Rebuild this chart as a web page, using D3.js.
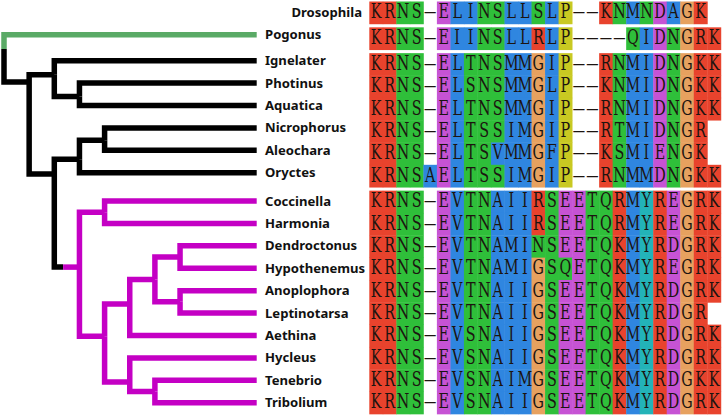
<!DOCTYPE html>
<html><head><meta charset="utf-8">
<script src="https://cdn.jsdelivr.net/npm/d3@7"></script>
<style>html,body{margin:0;padding:0;background:#fff;} svg{display:block}</style>
</head><body><svg id="c" width="722" height="416"></svg>
<script>
// ---------- data ----------
const taxa = ["Drosophila","Pogonus","Ignelater","Photinus","Aquatica","Nicrophorus","Aleochara","Oryctes",
  "Coccinella","Harmonia","Dendroctonus","Hypothenemus","Anoplophora","Leptinotarsa","Aethina","Hycleus","Tenebrio","Tribolium"];
const sequences = [
  "KRNS-ELINSLLSLP--KNMNDAGK",
  "KRNS-EIINSLLRLP----QIDNGRK",
  "KRNS-ELTNSMMGIP--RNMIDNGKK",
  "KRNS-ELSNSMMGLP--KNMIDNGKK",
  "KRNS-ELTNSMMGIP--RNMIDNGKK",
  "KRNS-ELTSSIMGIP--RTMIDNGR",
  "KRNS-ELTSVMMGFP--KSMIENGK",
  "KRNSAELTSSIMGIP--RNMMDNGKK",
  "KRNS-EVTNAIIRSEETQRMYREGRK",
  "KRNS-EVTNAIIRSEETQRMYREGRK",
  "KRNS-EVTNAMINSEETQKMYRDGRK",
  "KRNS-EVTNAMIGSQETQKMYREGRK",
  "KRNS-EVTNAIIGSEETQKMYRDGRK",
  "KRNS-EVTNAIIGSEETQKMYRDGR",
  "KRNS-EVSNAIIGSEETQKMYRDGRK",
  "KRNS-EVSNAIIGSEETQKMYRDGRK",
  "KRNS-EVSNAIMGSEETQKMYRDGKK",
  "KRNS-EVSNAIIGSEETQKMYRDGRK"
];
const blockOf = [0,1,2,2,2,2,2,2,3,3,3,3,3,3,3,3,3,3];
const residueClass = {K:"basic",R:"basic",N:"polar",S:"polar",T:"polar",Q:"polar",E:"acidic",D:"acidic",
  A:"hydro",I:"hydro",L:"hydro",M:"hydro",V:"hydro",F:"hydro",G:"gly",P:"pro",Y:"arom"};
const classNames = ["basic","polar","acidic","hydro","gly","pro","arom"];
const classColors = ["#e8432d","#2fbf3a","#c653d4","#2f86e0","#e7a15f","#c9c922","#23b3b8"];
// tree (cladogram) with named internal nodes
const treeNewick = "(Pogonus,((Ignelater,(Photinus,Aquatica)PA)A,(((Nicrophorus,Aleochara)NA,Oryctes)NAO,((Coccinella,Harmonia)CH,((((Dendroctonus,Hypothenemus)DH,(Anoplophora,Leptinotarsa)AL)DHAL,Aethina)DHALA,(Hycleus,(Tenebrio,Tribolium)TT)HTT)X1)M)B)N1)root;";
// vertical position of internal nodes, in taxon-row units
const nodeRow = {root:1.55,N1:2.95,A:2.63,PA:3.6,B:7.05,NAO:6.4,NA:5.55,M:10.95,CH:8.5,X1:14.03,
  DHALA:12.6,DHAL:11.5,DH:10.5,AL:12.5,HTT:16.08,TT:16.5};
const cladeGroups = ["Pogonus","M"];
const cladeColors = ["#5aaa66","#c400c4"];

// ---------- scales ----------
const svg = d3.select("#c");
const nCols = d3.max(sequences, s => s.length);
const x = d3.scaleLinear().domain([0, nCols]).range([369.3, 369.3 + nCols * 13.52]);
const rowH = 22.33, blockGap = 3.5, top0 = 1.5;
const yRow = d3.scaleLinear().domain([0, 1]).range([top0, top0 + rowH]);
const rowTop = i => yRow(i) + blockOf[i] * blockGap;
const color = d3.scaleOrdinal().domain(classNames).range(classColors);
// tip positions for tree and labels
const yTip = d3.scaleLinear().domain([0,1,2,7,8,17]).range([12.3,34.7,60.7,172.7,201,402.7]);
const xDepth = d3.scaleLinear().domain([0, 1]).range([4, 29.15]);
const xTipEnd = 256.7;

// ---------- alignment ----------
const cells = [];
sequences.forEach((s, i) => s.split("").forEach((c, j) => cells.push({i, j, c})));
const g = svg.append("g");
g.selectAll("rect").data(cells.filter(d => residueClass[d.c])).join("rect")
  .attr("x", d => x(d.j)).attr("y", d => rowTop(d.i))
  .attr("width", x(1) - x(0) + 0.4).attr("height", rowH + 0.4)
  .attr("fill", d => color(residueClass[d.c]));
g.selectAll("text").data(cells).join("text")
  .attr("transform", d => `translate(${(x(d.j) + x(d.j + 1)) / 2},${rowTop(d.i) + 16.8}) scale(${d.c === "-" ? 0.6 : 0.7},1)`)
  .attr("text-anchor", "middle")
  .attr("font-family", "DejaVu Serif")
  .attr("font-size", 20.5)
  .attr("fill", "#1c1410")
  .text(d => d.c === "-" ? "\u2014" : d.c);

// ---------- labels ----------
svg.append("g").selectAll("text").data(taxa).join("text")
  .attr("x", (d, i) => i === 0 ? 362 : 265)
  .attr("y", (d, i) => yTip(i))
  .attr("dy", "0.35em")
  .attr("text-anchor", (d, i) => i === 0 ? "end" : "start")
  .attr("font-family", "Noto Sans")
  .attr("font-weight", "bold")
  .attr("font-size", 13.1)
  .attr("fill", "#111")
  .text(d => d);

// ---------- tree ----------
function parseNewick(str) {
  let pos = 0;
  function node() {
    const n = {children: []};
    if (str[pos] === "(") {
      pos++;
      n.children.push(node());
      while (str[pos] === ",") { pos++; n.children.push(node()); }
      pos++; // ')'
    }
    let name = "";
    while (pos < str.length && !",();".includes(str[pos])) name += str[pos++];
    n.name = name;
    if (!n.children.length) delete n.children;
    return n;
  }
  return node();
}
const root = d3.hierarchy(parseNewick(treeNewick));
root.each(n => {
  n.px = n.children ? xDepth(n.depth) : xTipEnd;
  n.py = n.children ? yTip(nodeRow[n.data.name]) : yTip(taxa.indexOf(n.data.name));
});
root.each(n => {
  const k = cladeGroups.indexOf(n.data.name);
  n.col = k >= 0 ? cladeColors[k] : (n.parent ? n.parent.col : "#000");
});
const segs = [];
root.descendants().filter(n => n.parent).forEach(n => {
  const p = n.parent;
  if (p.parent && n.col !== p.col) {
    const mx = p.px + 0.35 * (n.px - p.px);
    segs.push({d: `M${p.px},${p.py}V${n.py}H${mx}`, c: p.col});
    segs.push({d: `M${mx},${n.py}H${n.px}`, c: n.col});
  } else {
    segs.push({d: `M${p.px},${p.py}V${n.py}H${n.px}`, c: n.col});
  }
});
svg.append("g").selectAll("path").data(segs).join("path")
  .attr("d", d => d.d).attr("fill", "none")
  .attr("stroke", d => d.c).attr("stroke-width", 5.5)
  .attr("stroke-linejoin", "miter").attr("stroke-linecap", "butt");
</script></body></html>
